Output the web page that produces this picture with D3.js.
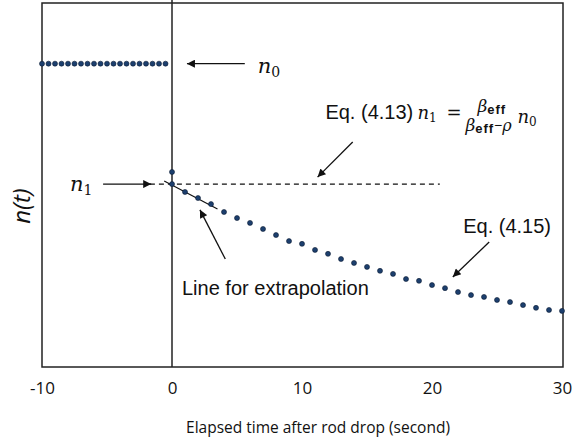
<!DOCTYPE html>
<html>
<head>
<meta charset="utf-8">
<script src="https://cdn.jsdelivr.net/npm/d3@7"></script>
<style>
  body { margin: 0; background: #fff; }
  svg { display: block; }
</style>
</head>
<body>
<svg id="canvas" width="579" height="442"></svg>
<script>
// values, n(t) normalised so that n0 = 1
let beforeTimes = [-10, -9.5, -9, -8.5, -8, -7.5, -7, -6.5, -6, -5.5, -5, -4.5, -4, -3.5, -3, -2.5, -2, -1.5, -1, -0.5]
let beforeValues = beforeTimes.map(() => 1.0)

let afterTimes = d3.range(0, 31)
let afterValues = [0.603, 0.577, 0.557, 0.537, 0.511, 0.491, 0.475, 0.455, 0.435, 0.415,
                   0.406, 0.386, 0.373, 0.356, 0.343, 0.330, 0.317, 0.307, 0.290, 0.284,
                   0.270, 0.260, 0.247, 0.237, 0.231, 0.221, 0.214, 0.204, 0.195, 0.188, 0.185]

let jumpPoint = [0, 0.643]        // the extra dot right at t = 0
let n1Value = 0.603
let n1Line = [-1.7, 20.6]
let extrapLine = [[-0.6, 0.613], [3.5, 0.521]]
let xTicks = [-10, 0, 10, 20, 30]

let canvas = d3.select("#canvas")

let x = d3.scaleLinear().domain([-10, 30]).range([42, 562])
let y = d3.scaleLinear().domain([0, 1.2]).range([367, 3])

let dotFill = "#1c3f6e"
let dotStroke = "#0b1b33"

// arrow head
canvas.append("defs").append("marker")
    .attr("id", "head")
    .attr("viewBox", "0 0 10 10")
    .attr("refX", 10).attr("refY", 5)
    .attr("markerWidth", 10).attr("markerHeight", 8)
    .attr("markerUnits", "userSpaceOnUse")
    .attr("orient", "auto")
  .append("path")
    .attr("d", "M0,0 L10,5 L0,10 z")
    .attr("fill", "#111")

// frame
canvas.append("rect")
    .attr("x", x(-10)).attr("y", y(1.2))
    .attr("width", x(30) - x(-10) + 1).attr("height", y(0) - y(1.2))
    .attr("fill", "none").attr("stroke", "#222").attr("stroke-width", 1.5)

// t = 0 line
canvas.append("line")
    .attr("x1", x(0)).attr("x2", x(0))
    .attr("y1", 0).attr("y2", y(0))
    .attr("stroke", "#222").attr("stroke-width", 1.5)

// x axis labels (plain hyphen for the minus sign, as in the source)
let xAxis = d3.axisBottom(x).tickValues(xTicks).tickSize(0).tickPadding(0).tickFormat(d => String(d))
let gx = canvas.append("g").attr("transform", "translate(0," + y(0) + ")").call(xAxis)
gx.select(".domain").remove()
gx.selectAll("text")
    .attr("y", 27).attr("dy", null)
    .attr("font-family", "'Open Sans', sans-serif")
    .attr("font-size", 17)
    .attr("fill", "#111")

canvas.append("text")
    .attr("x", 318).attr("y", 433)
    .attr("text-anchor", "middle")
    .attr("font-family", "'Open Sans', sans-serif")
    .attr("font-size", 15.5)
    .attr("fill", "#111")
    .text("Elapsed time after rod drop (second)")

canvas.append("text")
    .attr("transform", "translate(30," + 206 + ") rotate(-90)")
    .attr("text-anchor", "middle")
    .attr("font-family", "'Open Sans', sans-serif")
    .attr("font-style", "italic")
    .attr("font-size", 24)
    .attr("fill", "#111")
    .text("n(t)")

// dashed n1 level
canvas.append("line")
    .attr("x1", x(n1Line[0])).attr("x2", x(n1Line[1]))
    .attr("y1", y(n1Value)).attr("y2", y(n1Value))
    .attr("stroke", "#111").attr("stroke-width", 1.2)
    .attr("stroke-dasharray", "5,4")

// extrapolation line
canvas.append("line")
    .attr("x1", x(extrapLine[0][0])).attr("y1", y(extrapLine[0][1]))
    .attr("x2", x(extrapLine[1][0])).attr("y2", y(extrapLine[1][1]))
    .attr("stroke", "#111").attr("stroke-width", 1.2)

// dots
let dots = beforeTimes.map((t, i) => [t, beforeValues[i]])
    .concat([jumpPoint])
    .concat(afterTimes.map((t, i) => [t, afterValues[i]]))

canvas.selectAll("circle.dot")
    .data(dots)
    .enter()
    .append("circle")
    .attr("class", "dot")
    .attr("cx", d => x(d[0]))
    .attr("cy", d => y(d[1]))
    .attr("r", 2.5)
    .attr("fill", dotFill)
    .attr("stroke", dotStroke)
    .attr("stroke-width", 0.6)

// arrows: [from, to] in data units
let arrows = [
    [[5.6, 1.0], [1.15, 1.0]],
    [[-5.3, n1Value], [-1.6, n1Value]],
    [[13.9, 0.742], [11.2, 0.626]],
    [[24.4, 0.412], [21.6, 0.297]],
    [[4.1, 0.356], [2.15, 0.518]]
]
canvas.selectAll("line.arrow")
    .data(arrows)
    .enter()
    .append("line")
    .attr("class", "arrow")
    .attr("x1", d => x(d[0][0])).attr("y1", d => y(d[0][1]))
    .attr("x2", d => x(d[1][0])).attr("y2", d => y(d[1][1]))
    .attr("stroke", "#111").attr("stroke-width", 1.3)
    .attr("marker-end", "url(#head)")

let mathFont = "'DejaVu Serif', serif"
let sansFont = "'Liberation Sans', Arial, sans-serif"

// n0 label
let n0Label = canvas.append("text")
    .attr("x", x(6.6)).attr("y", y(0.969))
    .attr("font-family", mathFont).attr("fill", "#111")
n0Label.append("tspan").attr("font-style", "italic").attr("font-size", 21).text("n")
n0Label.append("tspan").attr("font-size", 14).attr("dy", 4).text("0")

// n1 label
let n1Label = canvas.append("text")
    .attr("x", x(-7.85)).attr("y", y(0.580))
    .attr("font-family", mathFont).attr("fill", "#111")
n1Label.append("tspan").attr("font-style", "italic").attr("font-size", 21).text("n")
n1Label.append("tspan").attr("font-size", 14).attr("dy", 4).text("1")

// Eq. (4.13)
let ex = x(11.8), ey = y(0.818)
let eq = canvas.append("g").attr("transform", "translate(" + ex + "," + ey + ")").attr("fill", "#111")
eq.append("text").attr("font-family", sansFont).attr("font-size", 20).text("Eq. (4.13)")
let eqN1 = eq.append("text").attr("x", 92).attr("font-family", mathFont)
eqN1.append("tspan").attr("font-style", "italic").attr("font-size", 18).text("n")
eqN1.append("tspan").attr("font-size", 12).attr("dy", 3).text("1")
eq.append("text").attr("x", 121).attr("y", 0).attr("font-family", mathFont).attr("font-size", 18).text("=")
let num = eq.append("text").attr("x", 152).attr("y", -7)
num.append("tspan").attr("font-family", mathFont).attr("font-style", "italic").attr("font-size", 17).text("β")
num.append("tspan").attr("font-family", sansFont).attr("font-weight", "bold").attr("font-size", 13)
    .attr("letter-spacing", 1).attr("dy", 2).text("eff")
let den = eq.append("text").attr("x", 140).attr("y", 12)
den.append("tspan").attr("font-family", mathFont).attr("font-style", "italic").attr("font-size", 17).text("β")
den.append("tspan").attr("font-family", sansFont).attr("font-weight", "bold").attr("font-size", 13)
    .attr("letter-spacing", 1).attr("dy", 2).text("eff")
den.append("tspan").attr("font-family", sansFont).attr("font-size", 14).attr("dy", -3).text("−")
den.append("tspan").attr("font-family", mathFont).attr("font-style", "italic").attr("font-size", 16).attr("dy", 1).text("ρ")
let eqN0 = eq.append("text").attr("x", 192).attr("y", 4).attr("font-family", mathFont)
eqN0.append("tspan").attr("font-style", "italic").attr("font-size", 18).text("n")
eqN0.append("tspan").attr("font-size", 12).attr("dy", 3).text("0")

// Eq. (4.15)
canvas.append("text")
    .attr("x", x(22.4)).attr("y", y(0.442))
    .attr("font-family", sansFont).attr("font-size", 20).attr("fill", "#111")
    .text("Eq. (4.15)")

// extrapolation note
canvas.append("text")
    .attr("x", x(0.77)).attr("y", y(0.237))
    .attr("font-family", sansFont).attr("font-size", 20).attr("fill", "#111")
    .text("Line for extrapolation")
</script>
</body>
</html>
